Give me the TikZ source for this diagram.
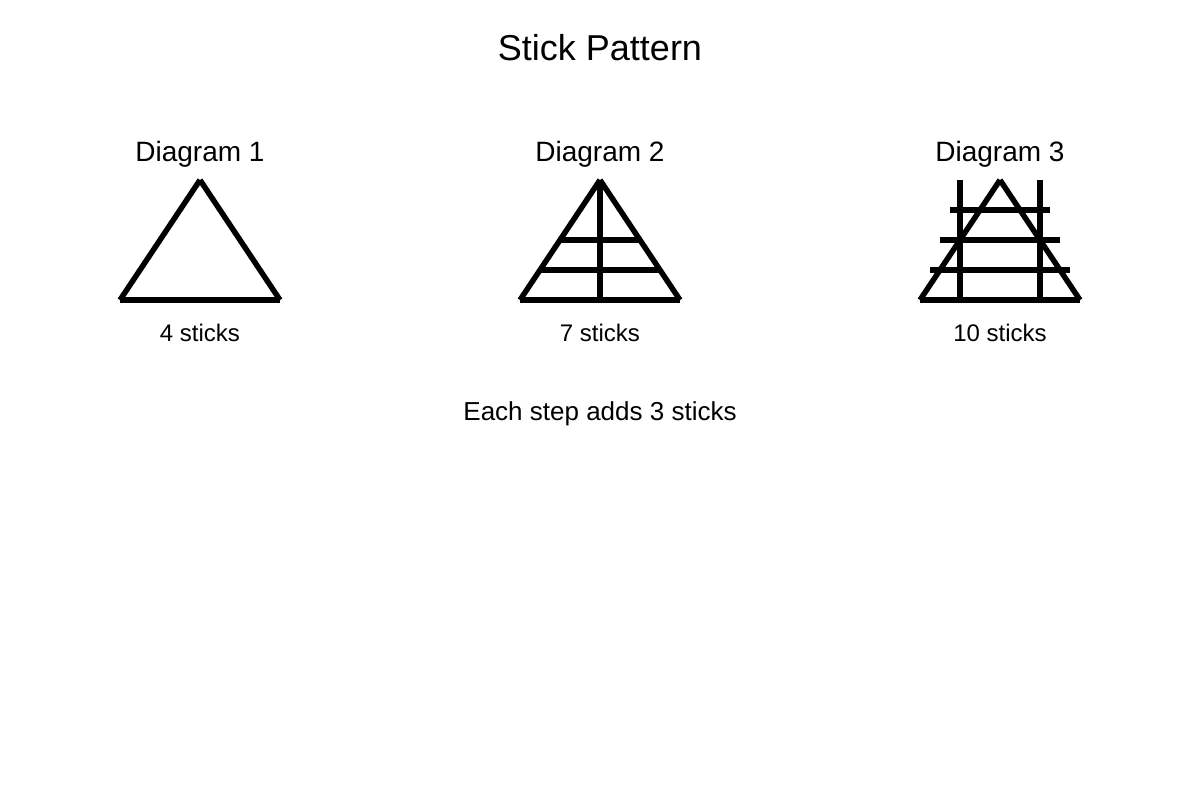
\documentclass[tikz,border=0pt]{standalone}
\usepackage{fontspec}
\setmainfont{Liberation Sans}
\begin{document}
\begin{tikzpicture}[x=1pt,y=-1pt,stick/.style={line width=5.5pt}]
        \useasboundingbox (0,0) rectangle (1200,800);
        % title
        \node[anchor=base,font=\fontsize{36}{40}\selectfont] (title) at (600,60) {Stick Pattern};
        % triangles and labels
        \foreach \i/\x/\cnt in {1/200/4,2/600/7,3/1000/10} {
            \node[anchor=base,font=\fontsize{28}{32}\selectfont] (diag\i) at (\x,161) {Diagram \i};
            \node[anchor=base,font=\fontsize{24}{28}\selectfont] (count\i) at (\x,341) {\cnt\ sticks};
            \coordinate (top\i) at (\x,180);
            \coordinate (left\i) at (\x-80,300);
            \coordinate (right\i) at (\x+80,300);
            \draw[stick] (left\i) -- (top\i);
            \draw[stick] (top\i) -- (right\i);
            \draw[stick] (left\i) -- (right\i);
        }
        % diagram 2
        \draw[stick] (top2) -- (600,300);
        \draw[stick] (560,240) -- (640,240);
        \draw[stick] (540,270) -- (660,270);
        % diagram 3
        \draw[stick] (960,180) -- (960,300);
        \draw[stick] (1040,180) -- (1040,300);
        \draw[stick] (950,210) -- (1050,210);
        \draw[stick] (940,240) -- (1060,240);
        \draw[stick] (930,270) -- (1070,270);
        % footer
        \node[anchor=base,font=\fontsize{26}{30}\selectfont] (note) at (600,420) {Each step adds 3 sticks};
    \end{tikzpicture}
\end{document}
